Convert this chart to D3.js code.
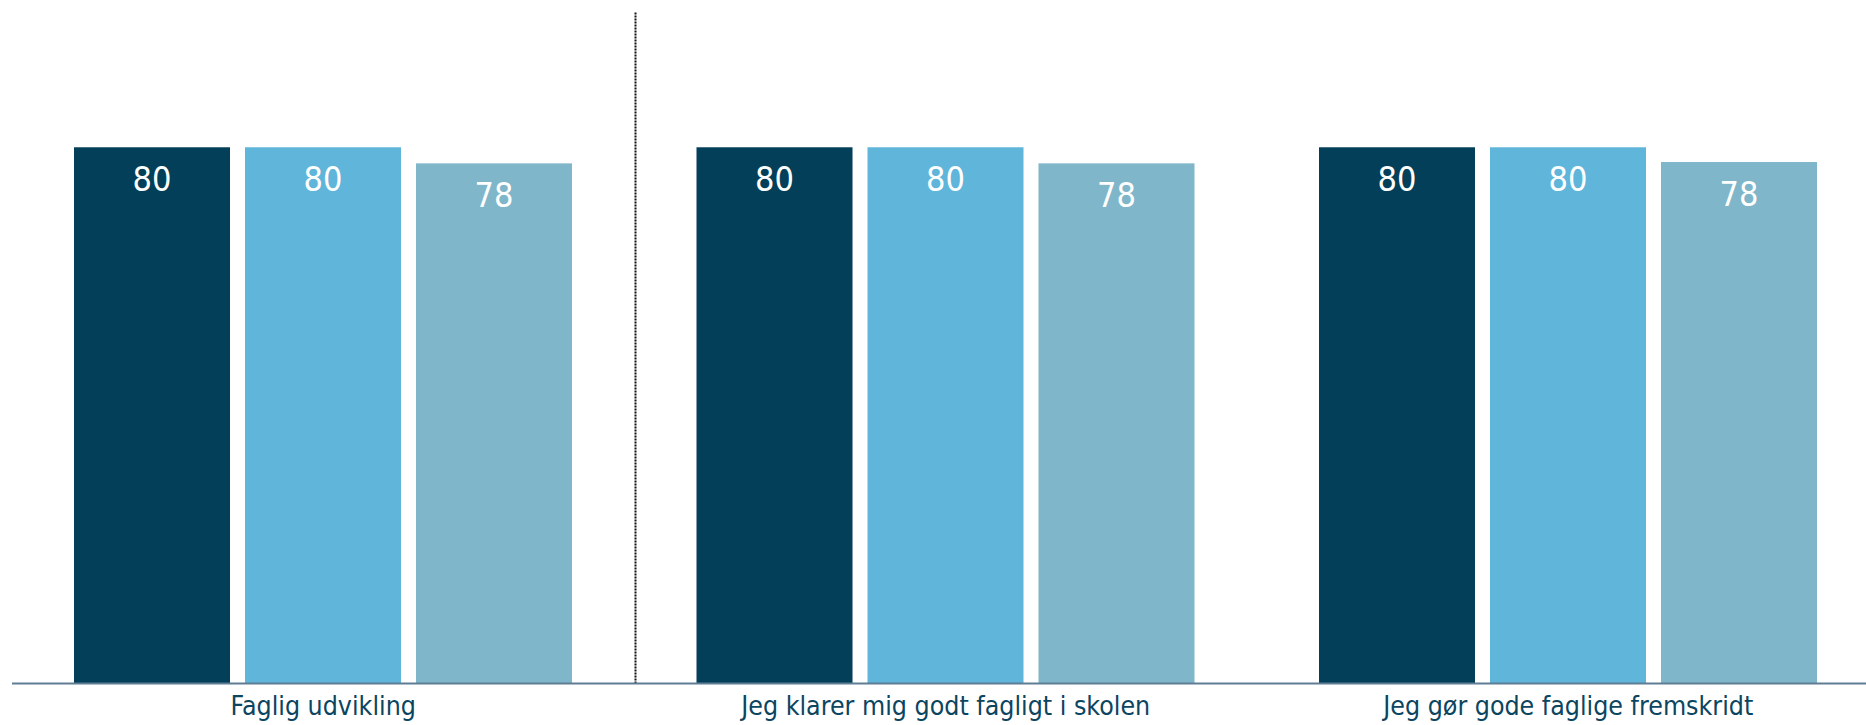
<!DOCTYPE html>
<html>
<head>
<meta charset="utf-8">
<script src="https://cdn.jsdelivr.net/npm/d3@7"></script>
<style>
  html, body { margin: 0; padding: 0; background: #fff; }
  svg { display: block; }
</style>
</head>
<body>
<svg id="chart" width="1866" height="725"></svg>
<script>
const categories = ["Faglig udvikling", "Jeg klarer mig godt fagligt i skolen", "Jeg gør gode faglige fremskridt"];
const seriesNames = ["Serie 1", "Serie 2", "Serie 3"];
const series1 = [79.9, 79.9, 79.9];
const series2 = [79.9, 79.9, 79.9];
const series3 = [77.5, 77.5, 77.7];
const colors = ["#033f58", "#5fb5da", "#7fb6ca"];
const yTicks = [0, 100];

const seriesValues = [series1, series2, series3];
const data = categories.map((c, i) => ({
  category: c,
  values: seriesNames.map((s, j) => ({ key: s, value: seriesValues[j][i], color: colors[j] }))
}));

const svg = d3.select("#chart");
const baseY = 683;

const x0 = d3.scaleBand().domain(categories).range([12, 1879.5]).padding(0);
const x1 = d3.scaleBand().domain(seriesNames).range([62, 560]).paddingInner(0.0877).paddingOuter(0);
const y = d3.scaleLinear().domain([yTicks[0], yTicks[1]]).range([baseY, 12.5]);

const fmt = d3.format(".0f");

const groups = svg.append("g").selectAll("g")
  .data(data).join("g")
  .attr("transform", d => `translate(${x0(d.category)},0)`);

groups.selectAll("rect")
  .data(d => d.values).join("rect")
  .attr("x", d => x1(d.key))
  .attr("y", d => y(d.value))
  .attr("width", x1.bandwidth())
  .attr("height", d => y(0) - y(d.value))
  .attr("fill", d => d.color);

groups.selectAll("text.val")
  .data(d => d.values).join("text")
  .attr("class", "val")
  .attr("x", d => x1(d.key) + x1.bandwidth() / 2)
  .attr("y", d => y(d.value) + 44)
  .attr("text-anchor", "middle")
  .attr("fill", "#ffffff")
  .attr("font-family", "'DejaVu Sans Condensed', 'DejaVu Sans', sans-serif")
  .attr("font-size", 34)
  .text(d => fmt(d.value));

// dotted separator after first category
svg.append("line")
  .attr("x1", x0(categories[1]) + 1)
  .attr("x2", x0(categories[1]) + 1)
  .attr("y1", y(100))
  .attr("y2", y(0))
  .attr("stroke", "#111111")
  .attr("stroke-width", 2)
  .attr("stroke-dasharray", "2,1");

// x axis
const xAxis = d3.axisBottom(x0).tickSize(0).tickPadding(0);
const ax = svg.append("g")
  .attr("transform", `translate(0,${baseY})`)
  .call(xAxis);
ax.select(".domain")
  .attr("d", `M12,0.5H1866`)
  .attr("stroke", "#5f7d93")
  .attr("stroke-width", 2);
ax.selectAll(".tick text")
  .attr("y", 32)
  .attr("dy", 0)
  .attr("fill", "#0b4560")
  .attr("font-family", "'DejaVu Sans Condensed', 'DejaVu Sans', sans-serif")
  .attr("font-size", 26.5);
</script>
</body>
</html>
